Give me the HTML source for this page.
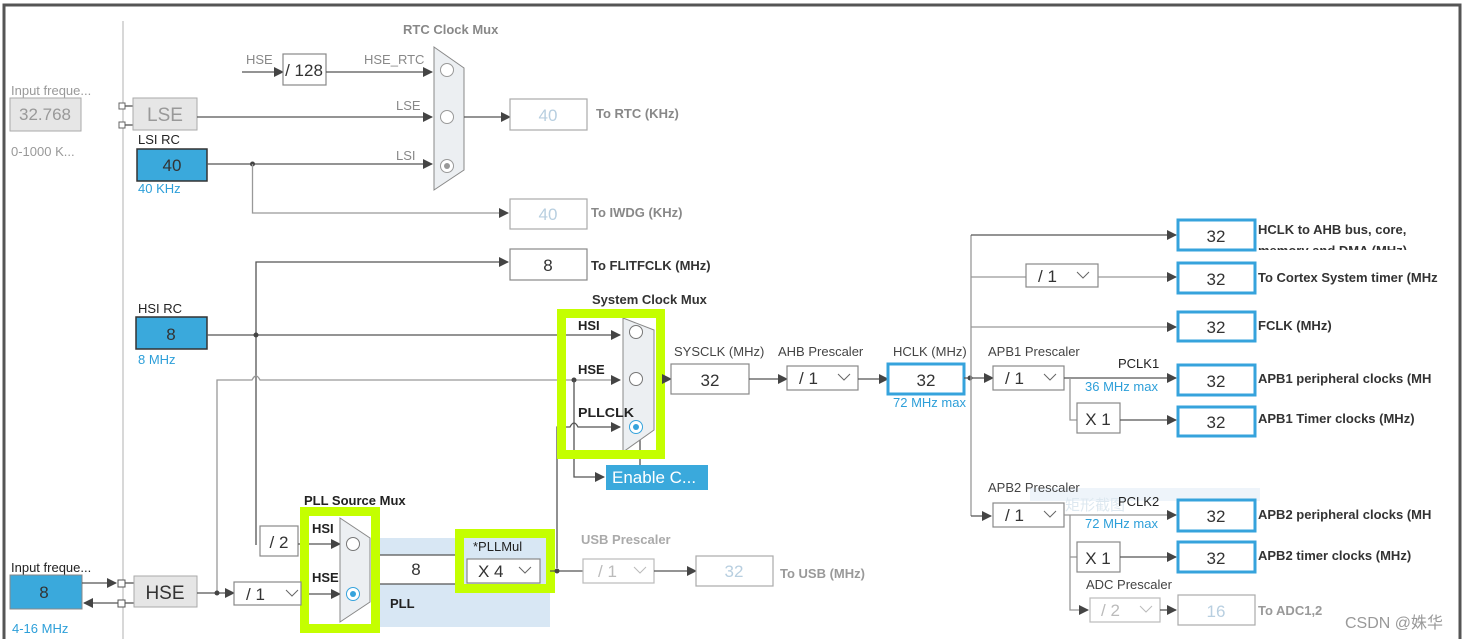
<!DOCTYPE html>
<html><head><meta charset="utf-8"><style>
html,body{margin:0;padding:0;background:#fff;}
svg{display:block;font-family:"Liberation Sans","Noto Sans CJK SC",sans-serif;}
.l{stroke:#555;stroke-width:1.3;fill:none}
.lg{stroke:#999;stroke-width:1.3;fill:none}
.b{fill:#fff;stroke:#888;stroke-width:1.2}
.bb{fill:#fff;stroke:#36a3dc;stroke-width:3}
.n{font-size:17px;fill:#333;text-anchor:middle}
.t{font-size:13px;fill:#222}
.tb{font-size:13px;font-weight:bold;fill:#333}
.g{font-size:13px;fill:#999}
.bl{font-size:13px;fill:#2d9fd9}
.gr{fill:none;stroke:#c4ff00;stroke-width:9}
</style></head><body>
<svg width="1471" height="639" viewBox="0 0 1471 639">
<defs>
<marker id="a" markerWidth="10" markerHeight="10" refX="9" refY="5" orient="auto" markerUnits="userSpaceOnUse"><path d="M0,0 L10,5 L0,10z" fill="#444"/></marker>
<clipPath id="cp"><rect x="1256" y="221" width="200" height="29"/></clipPath>
</defs>
<path d="M4,639 L4,5 L1460,5 L1460,639" fill="none" stroke="#555" stroke-width="3"/>
<line x1="123" y1="21" x2="123" y2="639" stroke="#ccc" stroke-width="1.5"/>

<text x="11" y="95" class="g">Input freque...</text>
<rect x="10" y="98" width="71" height="33" fill="#e6e6e6" stroke="#aaa"/>
<text x="45" y="120" class="n" style="fill:#999">32.768</text>
<text x="11" y="156" class="g">0-1000 K...</text>
<rect x="119" y="103" width="6" height="6" fill="#fff" stroke="#666"/>
<rect x="119" y="122" width="6" height="6" fill="#fff" stroke="#666"/>
<line x1="125" y1="106" x2="133" y2="106" class="l"/><line x1="125" y1="125" x2="133" y2="125" class="l"/>
<rect x="133" y="98" width="64" height="32" fill="#e6e6e6" stroke="#aaa"/>
<text x="165" y="121" class="n" style="fill:#999;font-size:19px">LSE</text>

<text x="138" y="144" class="t">LSI RC</text>
<rect x="137" y="149" width="70" height="32" fill="#3aa9dc" stroke="#333" stroke-width="1.5"/>
<text x="172" y="171" class="n">40</text>
<text x="138" y="193" class="bl">40 KHz</text>

<text x="403" y="34" class="tb" style="fill:#888">RTC Clock Mux</text>
<text x="246" y="64" class="g" style="fill:#888">HSE</text>
<line x1="242" y1="72" x2="283" y2="72" class="l" marker-end="url(#a)"/>
<rect x="283" y="54" width="43" height="31" class="b"/>
<text x="304" y="76" class="n">/ 128</text>
<text x="364" y="64" class="g" style="fill:#888">HSE_RTC</text>
<line x1="326" y1="72" x2="432" y2="72" class="l" marker-end="url(#a)"/>
<text x="396" y="110" class="g" style="fill:#888">LSE</text>
<line x1="197" y1="117" x2="432" y2="117" class="l" marker-end="url(#a)"/>
<text x="396" y="160" class="g" style="fill:#888">LSI</text>
<line x1="207" y1="164" x2="432" y2="164" class="l" marker-end="url(#a)"/>
<circle cx="252.5" cy="164" r="2.5" fill="#444"/>
<polyline points="252.5,164 252.5,213 508,213" class="lg" marker-end="url(#a)"/>
<path d="M434,47 L464,68 L464,170 L434,190z" fill="#eceff2" stroke="#888"/>
<circle cx="447" cy="70" r="6.5" fill="#fff" stroke="#999"/>
<circle cx="447" cy="117" r="6.5" fill="#fff" stroke="#999"/>
<circle cx="447" cy="166" r="6.5" fill="#fff" stroke="#999"/><circle cx="447" cy="166" r="3" fill="#999"/>
<line x1="464" y1="117" x2="510" y2="117" class="l" marker-end="url(#a)"/>
<rect x="510" y="99" width="77" height="31" class="b" style="stroke:#aaa"/>
<text x="548" y="121" class="n" style="fill:#b8cfe0">40</text>
<text x="596" y="118" class="tb" style="fill:#888">To RTC (KHz)</text>
<rect x="510" y="199" width="77" height="30" class="b" style="stroke:#aaa"/>
<text x="548" y="220" class="n" style="fill:#b8cfe0">40</text>
<text x="591" y="217" class="tb" style="fill:#888">To IWDG (KHz)</text>
<polyline points="256,545 256,262 508,262" class="l" marker-end="url(#a)"/>
<rect x="510" y="249" width="77" height="31" class="b"/>
<text x="548" y="271" class="n">8</text>
<text x="591" y="270" class="tb">To FLITFCLK (MHz)</text>

<text x="138" y="313" class="t">HSI RC</text>
<rect x="136" y="317" width="71" height="32" fill="#3aa9dc" stroke="#333" stroke-width="1.5"/>
<text x="171" y="340" class="n">8</text>
<text x="138" y="364" class="bl">8 MHz</text>
<line x1="207" y1="335" x2="620" y2="335" class="l" marker-end="url(#a)"/>
<circle cx="256" cy="335" r="2.5" fill="#444"/>
<path d="M217,593 L217,380 L252,380 Q256,372 260,380 L620,380" class="lg" marker-end="url(#a)"/>
<circle cx="574" cy="380" r="2.5" fill="#444"/>
<polyline points="574,380 574,477 604,477" class="l" marker-end="url(#a)"/>
<path d="M557,568 L557,427 L570,427 Q574,419 578,427 L620,427" class="l" marker-end="url(#a)"/>
<line x1="640" y1="440" x2="640" y2="465" class="l"/>
<rect x="606" y="465" width="102" height="25" fill="#3aa9dc"/>
<text x="612" y="483" style="font-size:17px;fill:#fff">Enable C...</text>

<text x="592" y="304" class="tb">System Clock Mux</text>
<path d="M623,318 L654,330 L654,430 L623,452z" fill="#eceff2" stroke="#888"/>
<text x="578" y="330" class="tb" style="fill:#222">HSI</text>
<text x="578" y="374" class="tb" style="fill:#222">HSE</text>
<text x="578" y="417" class="tb" style="fill:#222" textLength="56" lengthAdjust="spacingAndGlyphs">PLLCLK</text>
<circle cx="636" cy="332" r="6.5" fill="#fff" stroke="#777"/>
<circle cx="636" cy="379" r="6.5" fill="#fff" stroke="#777"/>
<circle cx="636" cy="427" r="6.5" fill="#fff" stroke="#36a3dc"/><circle cx="636" cy="427" r="3" fill="#36a3dc"/>
<rect x="561.5" y="313.5" width="99" height="141" class="gr"/>
<line x1="665" y1="379" x2="671" y2="379" class="l" marker-end="url(#a)"/>

<text x="304" y="505" class="tb" style="fill:#222">PLL Source Mux</text>
<rect x="380" y="538" width="170" height="89" fill="#d8e7f4"/>
<rect x="260" y="526" width="38" height="30" class="b"/>
<text x="279" y="548" class="n">/ 2</text>
<line x1="298" y1="544" x2="340" y2="544" class="l" marker-end="url(#a)"/>
<line x1="301" y1="594" x2="340" y2="594" class="l" marker-end="url(#a)"/>
<text x="312" y="533" class="tb" style="fill:#222">HSI</text>
<text x="312" y="582" class="tb" style="fill:#222">HSE</text>
<path d="M340,518 L370,538 L370,602 L340,622z" fill="#eceff2" stroke="#888"/>
<circle cx="353" cy="544" r="6.5" fill="#fff" stroke="#777"/>
<circle cx="353" cy="594" r="6.5" fill="#fff" stroke="#36a3dc"/><circle cx="353" cy="594" r="3" fill="#36a3dc"/>
<rect x="304.5" y="511.5" width="71" height="117" class="gr"/>
<rect x="380" y="555" width="75" height="29" fill="#fff"/>
<line x1="380" y1="555" x2="460" y2="555" class="l"/><line x1="380" y1="584" x2="460" y2="584" class="l"/>
<text x="416" y="575" class="n">8</text>
<text x="390" y="608" class="tb" style="fill:#222">PLL</text>
<text x="473" y="551" class="t">*PLLMul</text>
<rect x="467" y="559" width="73" height="24" class="b"/>
<text x="478" y="577" style="font-size:17px;fill:#333">X 4</text>
<path d="M519,567 l6,6 l6,-6" fill="none" stroke="#666"/>
<rect x="459.5" y="533.5" width="91" height="55" class="gr"/>
<line x1="550" y1="571" x2="583" y2="571" class="l"/>
<circle cx="557" cy="571" r="2.5" fill="#444"/>
<text x="581" y="544" class="tb" style="fill:#aaa">USB Prescaler</text>
<rect x="583" y="559" width="71" height="24" class="b" style="stroke:#bbb"/>
<text x="598" y="577" style="font-size:17px;fill:#bbb">/ 1</text>
<path d="M634,567 l6,6 l6,-6" fill="none" stroke="#bbb"/>
<line x1="654" y1="571" x2="696" y2="571" class="l" marker-end="url(#a)"/>
<rect x="696" y="556" width="77" height="30" class="b" style="stroke:#aaa"/>
<text x="734" y="577" class="n" style="fill:#b8cfe0">32</text>
<text x="780" y="578" class="tb" style="fill:#999">To USB (MHz)</text>

<text x="11" y="572" class="t">Input freque...</text>
<rect x="10" y="575" width="72" height="34" fill="#3aa9dc" stroke="#888"/>
<text x="44" y="598" class="n">8</text>
<text x="12" y="633" class="bl">4-16 MHz</text>
<line x1="82" y1="583" x2="116" y2="583" class="l" marker-end="url(#a)"/>
<line x1="118" y1="603" x2="84" y2="603" class="l" marker-end="url(#a)"/>
<rect x="118" y="580" width="7" height="7" fill="#fff" stroke="#555"/>
<rect x="118" y="600" width="7" height="7" fill="#fff" stroke="#555"/>
<line x1="125" y1="583" x2="134" y2="583" class="l"/><line x1="125" y1="603" x2="134" y2="603" class="l"/>
<rect x="134" y="576" width="63" height="31" fill="#e6e6e6" stroke="#aaa"/>
<text x="165" y="599" class="n" style="font-size:19px">HSE</text>
<line x1="197" y1="593" x2="234" y2="593" class="l" marker-end="url(#a)"/>
<circle cx="217" cy="593" r="2.5" fill="#444"/>
<rect x="234" y="582" width="67" height="23" class="b"/>
<text x="246" y="600" style="font-size:17px;fill:#333">/ 1</text>
<path d="M286,590 l6,6 l6,-6" fill="none" stroke="#666"/>

<text x="674" y="356" class="t" style="fill:#444">SYSCLK (MHz)</text>
<text x="778" y="356" class="t" style="fill:#444">AHB Prescaler</text>
<text x="893" y="356" class="t" style="fill:#444">HCLK (MHz)</text>
<text x="988" y="356" class="t" style="fill:#444">APB1 Prescaler</text>
<rect x="671" y="364" width="78" height="30" class="b"/>
<text x="710" y="386" class="n">32</text>
<line x1="749" y1="379" x2="787" y2="379" class="l" marker-end="url(#a)"/>
<rect x="787" y="366" width="71" height="24" class="b"/>
<text x="799" y="384" style="font-size:17px;fill:#333">/ 1</text>
<path d="M838,374 l6,6 l6,-6" fill="none" stroke="#666"/>
<line x1="858" y1="379" x2="888" y2="379" class="l" marker-end="url(#a)"/>
<rect x="888" y="364" width="76" height="30" class="bb"/>
<text x="926" y="386" class="n">32</text>
<text x="893" y="407" class="bl">72 MHz max</text>
<line x1="964" y1="378" x2="993" y2="378" class="l" marker-end="url(#a)"/>
<circle cx="970" cy="378" r="2.5" fill="#444"/>
<line x1="971" y1="235" x2="971" y2="516" class="lg"/>
<line x1="971" y1="516" x2="991" y2="516" class="l" marker-end="url(#a)"/>

<line x1="971" y1="235" x2="1176" y2="235" class="l" marker-end="url(#a)"/>
<rect x="1178" y="220" width="77" height="30" class="bb"/>
<text x="1216" y="242" class="n">32</text>
<g clip-path="url(#cp)"><text x="1258" y="234" class="tb">HCLK to AHB bus, core,</text><text x="1258" y="255" class="tb">memory and DMA (MHz)</text></g>

<line x1="971" y1="277" x2="1026" y2="277" class="lg"/>
<rect x="1026" y="264" width="72" height="23" class="b"/>
<text x="1038" y="282" style="font-size:17px;fill:#333">/ 1</text>
<path d="M1077,272 l6,6 l6,-6" fill="none" stroke="#666"/>
<line x1="1098" y1="277" x2="1176" y2="277" class="lg" marker-end="url(#a)"/>
<rect x="1178" y="263" width="77" height="30" class="bb"/>
<text x="1216" y="285" class="n">32</text>
<text x="1258" y="282" class="tb">To Cortex System timer (MHz</text>

<line x1="971" y1="327" x2="1176" y2="327" class="lg" marker-end="url(#a)"/>
<rect x="1178" y="312" width="77" height="29" class="bb"/>
<text x="1216" y="333" class="n">32</text>
<text x="1258" y="330" class="tb">FCLK (MHz)</text>

<rect x="993" y="366" width="71" height="24" class="b"/>
<text x="1005" y="384" style="font-size:17px;fill:#333">/ 1</text>
<path d="M1044,374 l6,6 l6,-6" fill="none" stroke="#666"/>
<line x1="1064" y1="378" x2="1176" y2="378" class="l" marker-end="url(#a)"/>
<text x="1118" y="368" class="t" style="fill:#222">PCLK1</text>
<text x="1085" y="391" class="bl">36 MHz max</text>
<rect x="1178" y="365" width="77" height="30" class="bb"/>
<text x="1216" y="387" class="n">32</text>
<text x="1258" y="383" class="tb">APB1 peripheral clocks (MH</text>
<polyline points="1070,378 1070,420 1077,420" class="lg"/>
<rect x="1077" y="403" width="43" height="30" class="b"/>
<text x="1098" y="425" class="n">X 1</text>
<line x1="1120" y1="420" x2="1176" y2="420" class="l" marker-end="url(#a)"/>
<rect x="1178" y="407" width="77" height="29" class="bb"/>
<text x="1216" y="428" class="n">32</text>
<text x="1258" y="423" class="tb">APB1 Timer clocks (MHz)</text>

<rect x="1030" y="488" width="230" height="13" fill="#eef4fa"/>
<text x="1065" y="510" style="font-size:15px;fill:#dde8f0">矩形截图</text>
<text x="988" y="492" class="t" style="fill:#444">APB2 Prescaler</text>
<rect x="993" y="503" width="71" height="24" class="b"/>
<text x="1005" y="521" style="font-size:17px;fill:#333">/ 1</text>
<path d="M1044,511 l6,6 l6,-6" fill="none" stroke="#666"/>
<line x1="1064" y1="515" x2="1176" y2="515" class="lg" marker-end="url(#a)"/>
<text x="1118" y="506" class="t" style="fill:#222">PCLK2</text>
<text x="1085" y="528" class="bl">72 MHz max</text>
<rect x="1178" y="500" width="77" height="31" class="bb"/>
<text x="1216" y="522" class="n">32</text>
<text x="1258" y="519" class="tb">APB2 peripheral clocks (MH</text>
<polyline points="1070,515 1070,610 1088,610" class="lg" marker-end="url(#a)"/>
<line x1="1070" y1="557" x2="1077" y2="557" class="lg"/>
<rect x="1077" y="542" width="43" height="30" class="b"/>
<text x="1098" y="564" class="n">X 1</text>
<line x1="1120" y1="557" x2="1176" y2="557" class="l" marker-end="url(#a)"/>
<rect x="1178" y="542" width="77" height="30" class="bb"/>
<text x="1216" y="564" class="n">32</text>
<text x="1258" y="560" class="tb">APB2 timer clocks (MHz)</text>
<text x="1086" y="589" class="t" style="fill:#444">ADC Prescaler</text>
<rect x="1090" y="598" width="70" height="24" class="b" style="stroke:#bbb"/>
<text x="1101" y="616" style="font-size:17px;fill:#bbb">/ 2</text>
<path d="M1140,606 l6,6 l6,-6" fill="none" stroke="#bbb"/>
<line x1="1160" y1="610" x2="1176" y2="610" class="l" marker-end="url(#a)"/>
<rect x="1178" y="595" width="77" height="30" class="b" style="stroke:#aaa"/>
<text x="1216" y="617" class="n" style="fill:#b8cfe0">16</text>
<text x="1258" y="615" class="tb" style="fill:#999">To ADC1,2</text>
<text x="1345" y="628" style="font-size:16px;fill:#999">CSDN @姝华</text>
</svg>
</body></html>
